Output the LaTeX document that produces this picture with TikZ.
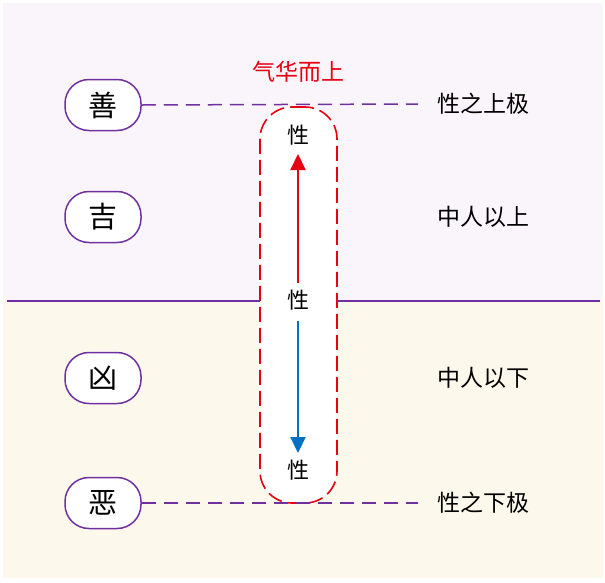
\documentclass[tikz,border=0pt]{standalone}
\usepackage{fontspec}
\setmainfont{Noto Sans CJK SC}
\usetikzlibrary{arrows.meta}
\definecolor{ppl}{HTML}{7030A0}
\definecolor{rd}{HTML}{E60012}
\definecolor{bl}{HTML}{0070C0}
\definecolor{bgtop}{HTML}{FAF5FA}
\definecolor{bgbot}{HTML}{FCF8EC}
\tikzset{
  oval/.style={draw=ppl, line width=1.5pt, fill=white, rounded corners=24pt, minimum width=76pt, minimum height=51pt, font=\fontsize{29}{29}\selectfont, inner sep=0pt},
  lab/.style={font=\fontsize{23}{23}\selectfont, inner sep=0pt},
  xing/.style={font=\fontsize{22}{22}\selectfont, inner sep=0pt},
  dline/.style={draw=ppl, line width=1.5pt, dash pattern=on 14pt off 8pt},
  arr/.style={line width=2.2pt, -{Triangle[length=16pt,width=15pt]}},
}
\begin{document}
\begin{tikzpicture}[x=1pt,y=-1pt]
\useasboundingbox (0,0) rectangle (605,582);
\fill[bgtop] (3,3) rectangle (603,301);
\fill[bgbot] (3,301) rectangle (603,578);
\coordinate (dl1) at (7,301);
\coordinate (dl2) at (260,301);
\coordinate (dr1) at (337,301);
\coordinate (dr2) at (600,301);
\draw[ppl, line width=1.5pt] (dl1) -- (dl2) (dr1) -- (dr2);
% capsule
\node[draw=rd, fill=white, line width=1.6pt, dash pattern=on 15pt off 6pt, rounded corners=32pt, minimum width=77pt, minimum height=396pt, inner sep=0pt] (cap) at (298.5,305) {};
% ovals
\node[oval] (shan) at (103,105) {善};
\node[oval] (ji) at (103,217) {吉};
\node[oval] (xiong) at (103,378) {凶};
\node[oval] (e) at (103,503) {恶};
% right labels
\node[lab] (l1) at (483,104) {性之上极};
\node[lab] (l2) at (483,217) {中人以上};
\node[lab] (l3) at (483,378) {中人以下};
\node[lab] (l4) at (483,503) {性之下极};
\coordinate (d1) at (418,104);
\coordinate (d2) at (418,503);
\draw[dline] (shan.east) -- (d1);
\draw[dline] (e.east) -- (d2);
% capsule texts
\node[lab, text=rd] (qh) at (298,72) {气华而上};
\node[xing] (x1) at (298,135) {性};
\node[xing] (x2) at (298,300) {性};
\node[xing] (x3) at (298,470) {性};
\coordinate (rs) at (298,283);
\coordinate (re) at (298,154);
\coordinate (bs) at (298,321);
\coordinate (be) at (298,453);
\draw[rd, arr] (rs) -- (re);
\draw[bl, arr] (bs) -- (be);
\end{tikzpicture}
\end{document}
